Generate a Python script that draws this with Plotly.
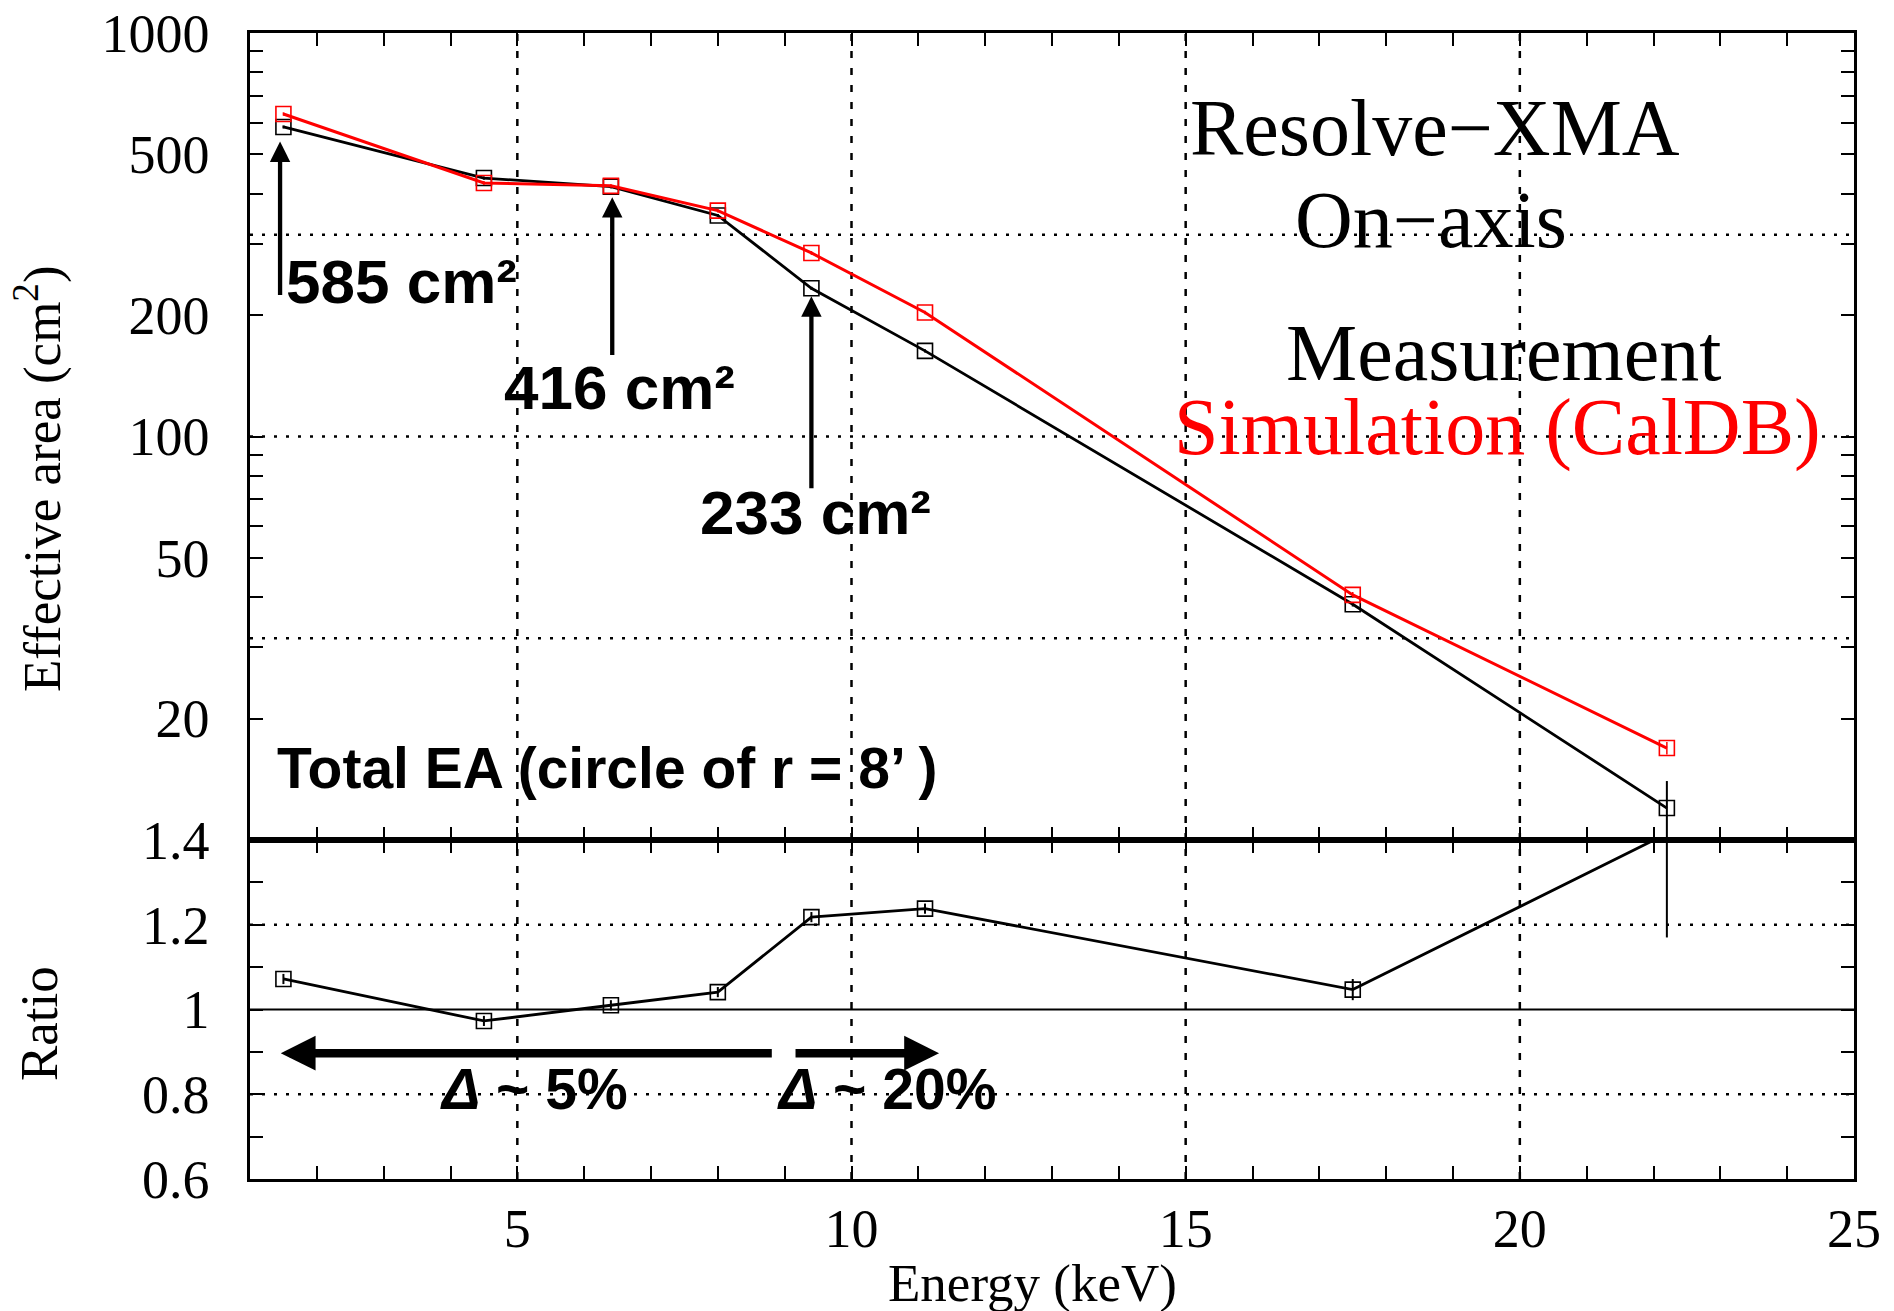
import math
import plotly.graph_objects as go

# ---------------- data ----------------
energy = [1.5, 4.5, 6.4, 8.0, 9.4, 11.1, 17.5, 22.2]
ea_meas = [585, 437, 416, 353, 233, 163, 38.4, 12.0]
ea_meas_err = [5, 4, 4, 3, 2, 1.5, 0.5, 2.0]
ea_sim = [630, 425, 418, 363, 285, 203, 40.5, 16.9]
ea_sim_err = [6, 5, 4, 4, 3, 2, 0.7, 0.6]
ratio = [1.072, 0.973, 1.010, 1.041, 1.218, 1.238, 1.047, 1.415]
ratio_err = [0.012, 0.012, 0.012, 0.012, 0.012, 0.012, 0.025, 0.245]

x_ticks = list(range(1, 26))
x_ticktext = [str(v) if v % 5 == 0 else "" for v in x_ticks]
ea_ticks = [20, 30, 40, 50, 60, 70, 80, 90, 100, 200, 300, 400, 500, 600, 700, 800, 900, 1000]
ea_ticktext = ["20", "", "", "50", "", "", "", "", "100", "200", "", "", "500", "", "", "", "", "1000"]
ratio_ticks = [0.6, 0.7, 0.8, 0.9, 1.0, 1.1, 1.2, 1.3, 1.4]
ratio_ticktext = ["0.6", "", "0.8", "", "1", "", "1.2", "", "1.4"]

# ---------------- layout geometry ----------------
FW, FH = 1894, 1311
ML, MR, MT, MB = 250, 40, 33, 132
PW = FW - ML - MR
PH = FH - MT - MB
SPLIT_Y = 840  # pixel row of panel boundary
split = (FH - MB - SPLIT_Y) / PH


def px(X):
    return (X - ML) / PW


def py(Y):
    return (FH - MB - Y) / PH


SERIF = "Liberation Serif"
SANS = "Liberation Sans"

fig = go.Figure()

fig.add_trace(go.Scatter(
    x=energy, y=ea_meas, mode="lines+markers", name="Measurement",
    line=dict(color="black", width=2.8),
    marker=dict(symbol="square-open", size=15, color="black", line=dict(width=1.6)),
    error_y=dict(type="data", array=ea_meas_err, color="black", thickness=2, width=0),
    xaxis="x", yaxis="y", showlegend=False))

fig.add_trace(go.Scatter(
    x=energy, y=ea_sim, mode="lines+markers", name="Simulation (CalDB)",
    line=dict(color="#ff0000", width=3),
    marker=dict(symbol="square-open", size=15, color="#ff0000", line=dict(width=1.6)),
    error_y=dict(type="data", array=ea_sim_err, color="#ff0000", thickness=1.5, width=0),
    xaxis="x", yaxis="y", showlegend=False))

fig.add_trace(go.Scatter(
    x=energy, y=ratio, mode="lines+markers", name="Ratio",
    line=dict(color="black", width=2.8),
    marker=dict(symbol="square-open", size=15, color="black", line=dict(width=1.6)),
    error_y=dict(type="data", array=ratio_err, color="black", thickness=2, width=0),
    xaxis="x2", yaxis="y2", showlegend=False))

tickfont = dict(family=SERIF, size=54, color="black")
common_x = dict(range=[1, 25], tickvals=x_ticks, ticks="inside", ticklen=13, tickwidth=2,
                tickcolor="black", showline=True, linewidth=2.5, linecolor="black",
                mirror="ticks", showgrid=False, zeroline=False, automargin=False)
common_y = dict(ticks="inside", ticklen=13, tickwidth=2, tickcolor="black", showline=True,
                linewidth=2.5, linecolor="black", mirror="ticks", showgrid=False,
                zeroline=False, tickfont=tickfont, ticklabelstandoff=27, automargin=False)

fig.update_layout(
    width=FW, height=FH,
    margin=dict(l=ML, r=MR, t=MT, b=MB, autoexpand=False),
    paper_bgcolor="white", plot_bgcolor="white",
    xaxis=dict(common_x, anchor="y", showticklabels=False),
    xaxis2=dict(common_x, anchor="y2", ticktext=x_ticktext, tickfont=tickfont,
                ticklabelstandoff=0),
    yaxis=dict(common_y, type="log", range=[1, 3], domain=[split, 1], tickvals=ea_ticks,
               ticktext=ea_ticktext, anchor="x"),
    yaxis2=dict(common_y, range=[0.6, 1.4], domain=[0, split], tickvals=ratio_ticks,
                ticktext=ratio_ticktext, anchor="x2"),
)

# ---------------- grid lines ----------------
shapes = []
vdash = "7px,10px"
hdot = "3px,9px"
for gx in [5, 10, 15, 20]:
    shapes.append(dict(type="line", xref="x", yref="y domain", x0=gx, x1=gx, y0=0, y1=1,
                       line=dict(color="black", width=2.5, dash=vdash), layer="below"))
    shapes.append(dict(type="line", xref="x2", yref="y2 domain", x0=gx, x1=gx, y0=0, y1=1,
                       line=dict(color="black", width=2.5, dash=vdash), layer="below"))
for gy in [1.5, 2.0, 2.5]:
    shapes.append(dict(type="line", xref="x domain", yref="y", x0=0, x1=1, y0=10 ** gy, y1=10 ** gy,
                       line=dict(color="black", width=2.5, dash=hdot), layer="below"))
for gy in [0.8, 1.2]:
    shapes.append(dict(type="line", xref="x2 domain", yref="y2", x0=0, x1=1, y0=gy, y1=gy,
                       line=dict(color="black", width=2.5, dash=hdot), layer="below"))
shapes.append(dict(type="line", xref="x2 domain", yref="y2", x0=0, x1=1, y0=1.0, y1=1.0,
                   line=dict(color="black", width=2.2), layer="below"))
shapes.append(dict(type="line", xref="paper", yref="paper", x0=0, x1=1, y0=split, y1=split,
                   line=dict(color="black", width=4.5)))
fig.update_layout(shapes=shapes)

# ---------------- annotations ----------------
ann = []


def big(text, X, Y, color="black"):
    ann.append(dict(text=text, x=px(X), y=py(Y), xref="paper", yref="paper",
                    xanchor="center", yanchor="middle", showarrow=False,
                    font=dict(family=SERIF, size=80, color=color)))


big("Resolve\u2212XMA", 1435, 128)
big("On\u2212axis", 1431, 220)
big("Measurement", 1503, 353)
big("Simulation (CalDB)", 1497, 427, color="#ff0000")


def bold(text, X, Y, size=60):
    ann.append(dict(text="<b>" + text + "</b>", x=px(X), y=py(Y), xref="paper", yref="paper",
                    xanchor="left", yanchor="middle", showarrow=False,
                    font=dict(family=SANS, size=size, color="black")))


bold("585 cm\u00b2", 284, 281, size=62)
bold("416 cm\u00b2", 502, 387, size=62)
bold("233 cm\u00b2", 698, 512, size=62)
bold("Total EA (circle of r = 8\u2019 )", 275, 768, size=57)
bold("<i>\u0394</i> ~ 5%", 438, 1089, size=57)
bold("<i>\u0394</i> ~ 20%", 775, 1089, size=57)

# axis titles
ann.append(dict(text="Effective area (cm<sup>2</sup>)", x=px(39), y=py(479), xref="paper", yref="paper",
                xanchor="center", yanchor="middle", textangle=-90, showarrow=False,
                font=dict(family=SERIF, size=53, color="black")))
ann.append(dict(text="Ratio", x=px(39), y=py(1024), xref="paper", yref="paper",
                xanchor="center", yanchor="middle", textangle=-90, showarrow=False,
                font=dict(family=SERIF, size=53, color="black")))
ann.append(dict(text="Energy (keV)", x=px(1032), y=py(1283), xref="paper", yref="paper",
                xanchor="center", yanchor="middle", showarrow=False,
                font=dict(family=SERIF, size=53, color="black")))

# vertical arrows pointing at the measured values (log axis -> log10 coords)
arrow_x = [1.45, 6.42, 9.4]
arrow_tip = [math.log10(585) - 0.036, math.log10(416) - 0.026, math.log10(233) - 0.02]
arrow_tail = [2.347, 2.198, 1.868]
for axx, tip, tail in zip(arrow_x, arrow_tip, arrow_tail):
    ann.append(dict(text="", x=axx, y=tip, xref="x", yref="y", ax=axx, ay=tail,
                    axref="x", ayref="y", showarrow=True, arrowhead=2, arrowsize=0.95,
                    arrowwidth=4.3, arrowcolor="black"))

# horizontal thick arrows in ratio panel
ann.append(dict(text="", x=1.46, y=0.897, xref="x2", yref="y2", ax=8.83, ay=0.897,
                axref="x2", ayref="y2", showarrow=True, arrowhead=2, arrowsize=0.82,
                arrowwidth=8.5, arrowcolor="black"))
ann.append(dict(text="", x=11.31, y=0.897, xref="x2", yref="y2", ax=9.14, ay=0.897,
                axref="x2", ayref="y2", showarrow=True, arrowhead=2, arrowsize=0.82,
                arrowwidth=8.5, arrowcolor="black"))

fig.update_layout(annotations=ann)

fig.write_html("out.html")
